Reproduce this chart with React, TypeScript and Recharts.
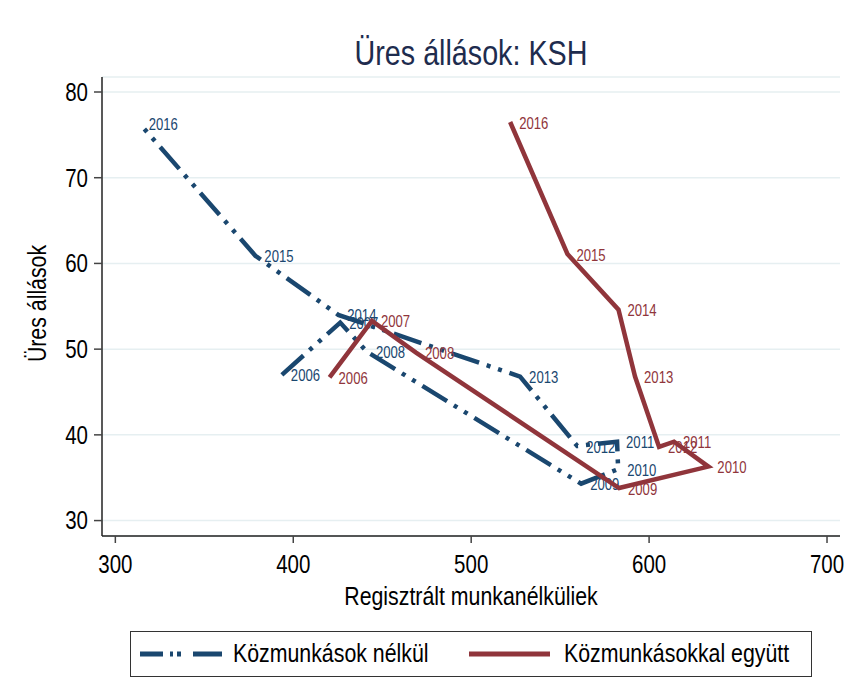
import { CartesianGrid, Label, Scatter, ScatterChart, XAxis, YAxis } from "recharts";

// no narrow font installed, so Liberation Sans is squeezed horizontally
const FONT = "'Liberation Sans', Arial, sans-serif";
const SQUEEZE = 0.82;
const NAVY = "#1a476f";
const MAROON = "#90353b";

const years = ["2006", "2007", "2008", "2009", "2010", "2011", "2012", "2013", "2014", "2015", "2016"];
// Közmunkások nélkül
const withoutX = [393.6, 426.4, 441.4, 561.8, 582.6, 582.0, 559.6, 527.5, 425.3, 378.7, 313.7];
const withoutY = [47.0, 53.1, 49.7, 34.3, 36.0, 39.2, 38.7, 46.8, 54.0, 60.9, 76.3];
// Közmunkásokkal együtt
const withX = [420.4, 444.2, 469.0, 583.1, 633.3, 614.0, 605.6, 592.1, 582.8, 554.1, 521.9];
const withY = [46.7, 53.3, 49.6, 33.8, 36.3, 39.2, 38.6, 46.8, 54.6, 61.1, 76.5];

const xTicks = [300, 400, 500, 600, 700];
const yTicks = [30, 40, 50, 60, 70, 80];

const toPoints = (xs: number[], ys: number[]) =>
  years.map((year, i) => ({ year, x: xs[i], y: ys[i] }));

const withoutData = toPoints(withoutX, withoutY);
const withData = toPoints(withX, withY);

function Narrow({ x, y, size, anchor = "start", dy = "0", fill = "#000", rotate = 0, children }: any) {
  return (
    <text
      transform={`translate(${x} ${y}) rotate(${rotate}) scale(${SQUEEZE} 1)`}
      textAnchor={anchor}
      dy={dy}
      fontSize={size}
      fontFamily={FONT}
      fill={fill}
    >
      {children}
    </text>
  );
}

function yearLabel(color: string) {
  return (props: any) => (
    <Narrow x={props.cx + 9} y={props.cy + 1} dy="0.35em" size={16} fill={color}>
      {props.payload.year}
    </Narrow>
  );
}

function XTick({ x, y, payload }: any) {
  return (
    <Narrow x={x} y={y} dy="0.71em" size={25} anchor="middle">
      {payload.value}
    </Narrow>
  );
}

function YTick({ x, y, payload }: any) {
  return (
    <Narrow x={x} y={y} dy="0.355em" size={25} anchor="end">
      {payload.value}
    </Narrow>
  );
}

function XTitle({ viewBox }: any) {
  return (
    <Narrow x={viewBox.x + viewBox.width / 2} y={605} size={26} anchor="middle">
      Regisztrált munkanélküliek
    </Narrow>
  );
}

function YTitle({ viewBox }: any) {
  return (
    <Narrow x={viewBox.x + 15} y={viewBox.y + viewBox.height / 2 - 3} dy="0.35em" size={26} anchor="middle" rotate={-90}>
      Üres állások
    </Narrow>
  );
}

const squeezed = { display: "inline-block", transform: `scaleX(${SQUEEZE})` };

export default function App() {
  return (
    <div style={{ position: "absolute", left: 0, top: 0, width: 849, height: 700, background: "#fff", fontFamily: FONT }}>
      <div style={{ position: "absolute", left: 102, width: 738, top: 35, textAlign: "center", fontSize: 35, lineHeight: "35px", color: "#1e2c4e" }}>
        <span style={{ ...squeezed, transformOrigin: "center" }}>Üres állások: KSH</span>
      </div>
      <ScatterChart width={849} height={700} margin={{ top: 77, right: 9, bottom: 92, left: 22 }}>
        <CartesianGrid vertical={false} stroke="#e6eff1" strokeWidth={1.5} />
        <XAxis
          type="number"
          dataKey="x"
          domain={[292.5, 707.3]}
          ticks={xTicks}
          allowDataOverflow
          height={72}
          tickSize={7}
          tickMargin={12}
          tick={<XTick />}
          axisLine={{ stroke: "#222", strokeWidth: 1.5 }}
          tickLine={{ stroke: "#444", strokeWidth: 1.5 }}
        >
          <Label content={<XTitle />} />
        </XAxis>
        <YAxis
          type="number"
          dataKey="y"
          domain={[28.2, 81.75]}
          ticks={yTicks}
          allowDataOverflow
          width={80}
          tickSize={8}
          tickMargin={6}
          tick={<YTick />}
          axisLine={{ stroke: "#222", strokeWidth: 1.5 }}
          tickLine={{ stroke: "#444", strokeWidth: 1.5 }}
        >
          <Label content={<YTitle />} />
        </YAxis>
        <Scatter
          name="Közmunkások nélkül"
          data={withoutData}
          line={{ stroke: NAVY, strokeWidth: 4.5, strokeDasharray: "29 8 4 8 4 8" }}
          lineType="joint"
          shape={yearLabel(NAVY)}
          isAnimationActive={false}
        />
        <Scatter
          name="Közmunkásokkal együtt"
          data={withData}
          line={{ stroke: MAROON, strokeWidth: 4.5 }}
          lineType="joint"
          shape={yearLabel(MAROON)}
          isAnimationActive={false}
        />
      </ScatterChart>
      <div
        style={{
          position: "absolute",
          left: 130,
          top: 631,
          width: 682,
          height: 46,
          boxSizing: "border-box",
          border: "1.5px solid #333",
          fontSize: 26,
          color: "#000",
        }}
      >
        <svg width={90} height={10} style={{ position: "absolute", left: 9, top: 17 }}>
          <line x1={0} y1={5} x2={82} y2={5} stroke={NAVY} strokeWidth={5} strokeDasharray="23 7 3 4 4 12 29 100" />
        </svg>
        <div style={{ position: "absolute", left: 102, top: 0, height: 43, lineHeight: "43px", whiteSpace: "nowrap" }}>
          <span style={{ ...squeezed, transformOrigin: "left center" }}>Közmunkások nélkül</span>
        </div>
        <svg width={90} height={10} style={{ position: "absolute", left: 338, top: 17 }}>
          <line x1={0} y1={5} x2={81} y2={5} stroke={MAROON} strokeWidth={5} />
        </svg>
        <div style={{ position: "absolute", left: 433, top: 0, height: 43, lineHeight: "43px", whiteSpace: "nowrap" }}>
          <span style={{ ...squeezed, transformOrigin: "left center" }}>Közmunkásokkal együtt</span>
        </div>
      </div>
    </div>
  );
}
